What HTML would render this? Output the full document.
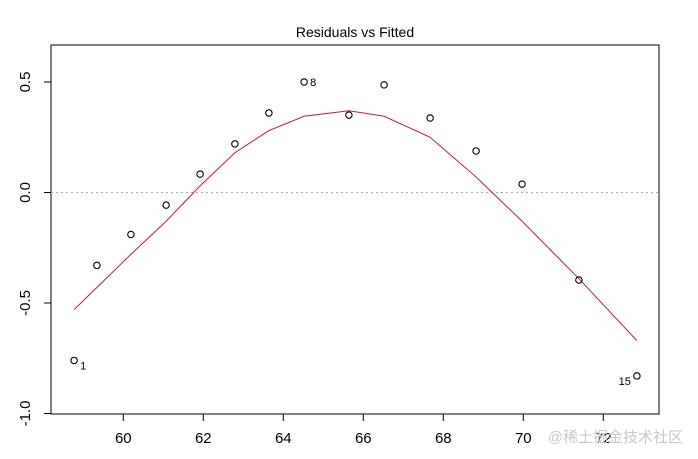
<!DOCTYPE html>
<html><head><meta charset="utf-8"><style>
html,body{margin:0;padding:0;background:#fff;}
svg{display:block;font-family:"Liberation Sans",Arial,sans-serif;}
</style></head><body>
<svg id="chart" width="698" height="459">
<rect x="0" y="0" width="698" height="459" fill="#fff"/>
<text x="355" y="37" text-anchor="middle" font-size="14">Residuals vs Fitted</text>
<rect x="51" y="45" width="608" height="369" fill="none" stroke="#000" stroke-width="1"/>
<g id="axes"></g>
<g id="marks"></g>
<text x="683" y="442" text-anchor="end" font-size="15" fill="#c8c8c8" font-family="'Liberation Sans','Noto Sans CJK SC',sans-serif">@稀土掘金技术社区</text>
</svg>
<script>
const fitted = [58.77,59.34,60.19,61.07,61.92,62.79,63.64,64.52,65.64,66.52,67.67,68.82,69.97,71.39,72.84];
const residuals = [-0.76,-0.33,-0.19,-0.057,0.083,0.22,0.36,0.50,0.35,0.487,0.337,0.188,0.038,-0.396,-0.83];
const smooth = [-0.53,-0.43,-0.28,-0.13,0.03,0.18,0.28,0.345,0.37,0.345,0.25,0.07,-0.13,-0.39,-0.67];
const xTicks = [60,62,64,66,68,70,72];
const yTicks = [-1.0,-0.5,0.0,0.5];
const yTickLabels = ["-1.0","-0.5","0.0","0.5"];
const pointLabels = {0:"1",7:"8",14:"15"};

const NS="http://www.w3.org/2000/svg";
const xs = v => 123.3 + (v-60)*40;
const ys = v => 192.5 - v*221;
const axes=document.getElementById('axes'), marks=document.getElementById('marks');
function mk(tag,attrs,parent){const e=document.createElementNS(NS,tag);for(const k in attrs)e.setAttribute(k,attrs[k]);parent.appendChild(e);return e;}

xTicks.forEach(t=>{
  const l=mk('line',{x1:xs(t),x2:xs(t),y1:414,y2:421,stroke:'#000'},axes);
  
  
  const tx=mk('text',{x:xs(t),y:443,'text-anchor':'middle','font-size':15},axes);
  tx.textContent=t;
  
  
});
yTicks.forEach((t,i)=>{
  const l=mk('line',{x1:44,x2:51,y1:ys(t),y2:ys(t),stroke:'#000'},axes);
  
  
  const tx=mk('text',{x:0,y:0,'text-anchor':'middle','font-size':15,transform:`translate(30,${ys(t)}) rotate(-90)`},axes);
  tx.textContent=yTickLabels[i];
  
  
});
const zl=mk('line',{x1:51,x2:659,y1:ys(0),y2:ys(0),stroke:'#aaa','stroke-dasharray':'2,3'},marks);


const pl=mk('polyline',{points:fitted.map((f,i)=>xs(f)+','+ys(smooth[i])).join(' '),fill:'none',stroke:'#c2185b','stroke-width':1},marks);


fitted.forEach((f,i)=>{
  const c=mk('circle',{cx:xs(f),cy:ys(residuals[i]),r:3.2,fill:'none',stroke:'#000','stroke-width':1.1},marks);
  
  
  if(pointLabels[i]){
    const right = i!==14;
    const t=mk('text',{x:xs(f)+(right?6:-6),y:ys(residuals[i])+(i===7?4:9),'text-anchor':right?'start':'end','font-size':11},marks);
    t.textContent=pointLabels[i];
    
    
  }
});
</script>
</body></html>
